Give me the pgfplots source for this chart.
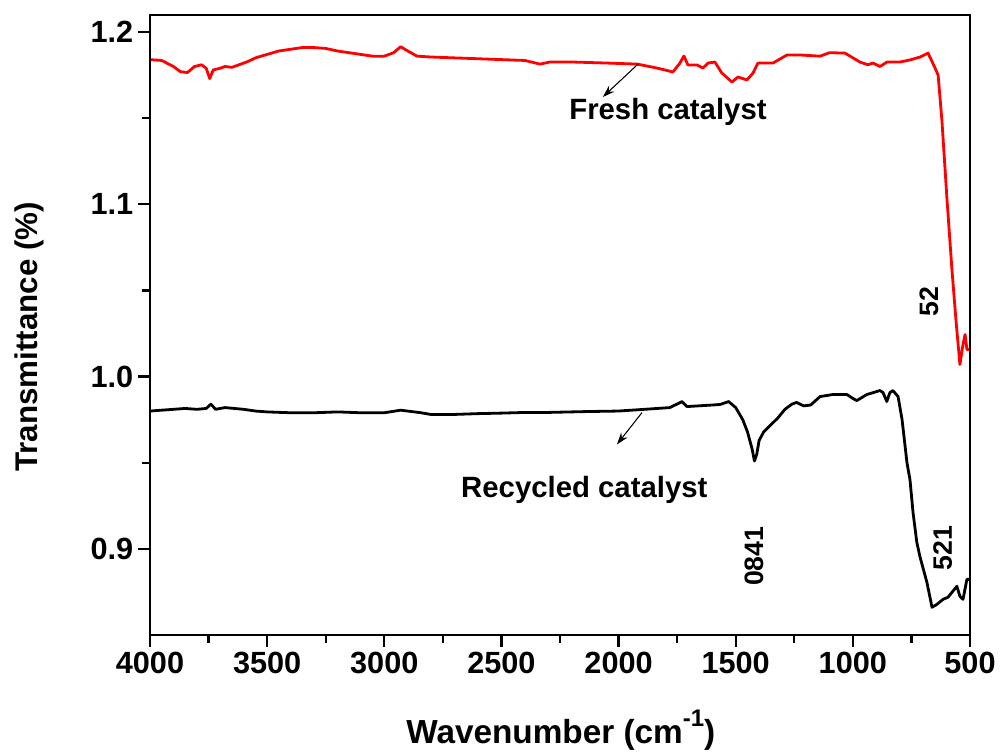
\documentclass[border=0pt]{standalone}
\usepackage{fontspec}
\setmainfont{Liberation Sans}
\usepackage{pgfplots}
\pgfplotsset{compat=1.18}
\usetikzlibrary{arrows.meta}
\definecolor{freshred}{RGB}{255,0,0}
\pgfplotstableread{
wn T
4000 1.1840
3950 1.1835
3900 1.1800
3870 1.1770
3840 1.1765
3810 1.1800
3780 1.1810
3760 1.1790
3745 1.1730
3730 1.1780
3700 1.1790
3680 1.1800
3650 1.1795
3620 1.1810
3580 1.1830
3550 1.1850
3500 1.1870
3450 1.1890
3400 1.1900
3350 1.1910
3300 1.1910
3250 1.1905
3200 1.1890
3150 1.1880
3100 1.1870
3050 1.1860
3000 1.1860
2960 1.1880
2930 1.1915
2900 1.1890
2860 1.1860
2800 1.1855
2700 1.1850
2600 1.1845
2500 1.1840
2400 1.1835
2335 1.1814
2293 1.1826
2195 1.1826
2049 1.1820
1921 1.1814
1836 1.1791
1802 1.1780
1768 1.1768
1738 1.1820
1721 1.1861
1704 1.1809
1665 1.1809
1640 1.1791
1618 1.1820
1589 1.1826
1559 1.1762
1516 1.1710
1490 1.1739
1452 1.1722
1426 1.1762
1405 1.1820
1341 1.1820
1281 1.1867
1226 1.1867
1140 1.1860
1100 1.1880
1034 1.1878
970 1.1826
936 1.1810
914 1.1820
884 1.1800
854 1.1826
799 1.1826
756 1.1838
713 1.1855
679 1.1878
649 1.1791
636 1.1750
620 1.1490
598 1.1026
577 1.0620
560 1.0330
543 1.0070
530 1.0186
521 1.0244
513 1.0157
500 1.0157
}\freshtable
\pgfplotstableread{
wn T
4000 0.9800
3950 0.9805
3900 0.9810
3850 0.9815
3800 0.9810
3760 0.9815
3740 0.9840
3720 0.9810
3680 0.9820
3640 0.9815
3600 0.9810
3550 0.9800
3500 0.9795
3400 0.9790
3300 0.9790
3200 0.9795
3100 0.9790
3000 0.9790
2930 0.9805
2848 0.9791
2800 0.9780
2707 0.9780
2600 0.9785
2500 0.9788
2421 0.9791
2300 0.9792
2135 0.9797
2000 0.9800
1900 0.9809
1781 0.9820
1729 0.9855
1708 0.9826
1600 0.9835
1567 0.9838
1530 0.9855
1500 0.9820
1470 0.9750
1450 0.9680
1430 0.9580
1420 0.9510
1410 0.9550
1400 0.9630
1380 0.9680
1350 0.9720
1320 0.9760
1290 0.9810
1260 0.9840
1240 0.9850
1210 0.9830
1180 0.9835
1140 0.9884
1085 0.9896
1025 0.9896
1000 0.9873
983 0.9861
940 0.9896
884 0.9919
871 0.9907
855 0.9855
842 0.9907
829 0.9919
807 0.9884
790 0.9751
769 0.9500
756 0.9400
743 0.9210
727 0.9038
714 0.8957
684 0.8806
662 0.8661
641 0.8678
615 0.8707
594 0.8719
573 0.8754
556 0.8783
543 0.8725
530 0.8707
513 0.8823
500 0.8823
}\recycledtable
\begin{document}
\begin{tikzpicture}
\begin{axis}[
  at={(0,0)}, anchor=south west,
  scale only axis, width=615pt, height=465pt,
  xmin=500, xmax=4000, x dir=reverse,
  ymin=0.85, ymax=1.2099,
  xtick={500,1000,...,4000},
  ytick={0.9,1.0,1.1,1.2},
  minor x tick num=1, minor y tick num=1,
  tick align=outside, tick pos=left,
  major tick length=9pt, minor tick length=6pt,
  axis line style={line width=2.2pt},
  every tick/.style={line width=1.7pt, black},
  tick label style={font=\fontsize{23}{23}\selectfont\bfseries},
  /pgf/number format/assume math mode=true,
  xticklabel style={/pgf/number format/set thousands separator={}},
  yticklabel style={/pgf/number format/fixed, /pgf/number format/precision=1, /pgf/number format/fixed zerofill},
  clip=false,
]
\addplot[freshred, line width=2.1pt, line join=round] table[x=wn, y=T] {\freshtable};
\addplot[black, line width=2.1pt, line join=round] table[x=wn, y=T] {\recycledtable};

\draw[line width=2.2pt, line join=miter] (rel axis cs:0,0) rectangle (rel axis cs:1,1);

\draw[-{Stealth[length=9pt,width=6pt]}, line width=0.8pt] (axis cs:1917,1.1814) -- (axis cs:2067,1.1623);
\draw[-{Stealth[length=9pt,width=6pt]}, line width=0.8pt] (axis cs:1900,0.9791) -- (axis cs:2007,0.9606);
\node[font=\fontsize{22}{22}\selectfont\bfseries, anchor=base] at (axis cs:1789,1.149) {Fresh catalyst};
\node[font=\fontsize{22}{22}\selectfont\bfseries, anchor=base] at (axis cs:2146,0.9299) {Recycled catalyst};
\node[font=\fontsize{20}{20}\selectfont\bfseries, rotate=90] at (axis cs:1422,0.8957) {0841};
\node[font=\fontsize{20}{20}\selectfont\bfseries, rotate=90] at (axis cs:616,0.9003) {521};
\node[font=\fontsize{20}{20}\selectfont\bfseries, rotate=90] at (axis cs:675,1.0435) {52};

\node[font=\fontsize{25}{25}\selectfont\bfseries, anchor=base] at (axis description cs:0.501,-0.175) {Wavenumber (cm\raisebox{0.5em}{\fontsize{18}{18}\selectfont -1})};
\node[font=\fontsize{23.5}{23.5}\selectfont\bfseries, rotate=90] at (axis description cs:-0.1476,0.4806) {Transmittance (\%)};
\end{axis}
\pgfresetboundingbox
\path ([shift={(-112.5pt,-90.75pt)}]current axis.south west) rectangle ([shift={(637.5pt,476.25pt)}]current axis.south west);
\end{tikzpicture}
\end{document}
